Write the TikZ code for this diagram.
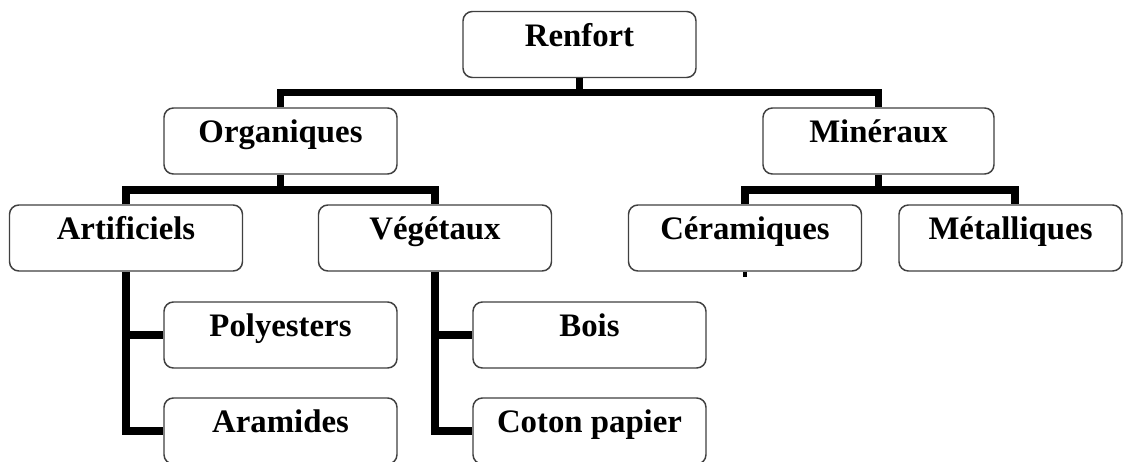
\documentclass[tikz,border=0pt]{standalone}
\usepackage{fontspec}
\setmainfont{Liberation Serif}
\begin{document}
\begin{tikzpicture}[x=0.75pt,y=-0.75pt,
  box/.style={draw=black!75, line width=1.1pt, rounded corners=7pt, fill=white,
    minimum width=174.75pt, minimum height=49.5pt, inner sep=0pt,
    text height=26.2pt, text depth=23.3pt,
    font=\fontsize{24.6}{28}\selectfont\bfseries},
  conn/.style={line width=5.6pt, line join=miter, black}]
\useasboundingbox (0,0) rectangle (1124,461);
\fill[white] (0,0) rectangle (1124,461);
% nodes
\node[box] (R)  at (579.5,44.5) {Renfort};
\node[box] (O)  at (280.5,141)  {Organiques};
\node[box, minimum width=173.25pt] (M)  at (878.5,141)  {Minéraux};
\node[box] (A)  at (126,238)    {Artificiels};
\node[box] (V)  at (435,238)    {Végétaux};
\node[box] (C)  at (745,238)    {Céramiques};
\node[box, minimum width=167.25pt] (Mt) at (1010.5,238) {Métalliques};
\node[box] (P)  at (280.5,335)  {Polyesters};
\node[box] (Ar) at (280.5,431)  {Aramides};
\node[box] (B)  at (589.5,335)  {Bois};
\node[box] (Ct) at (589.5,431)  {Coton papier};
% connector points
\coordinate (top) at (579.5,92.5);
\coordinate (ml) at (0,190);
\coordinate (mtx) at (1015,0);
% connectors
\draw[conn] (R.south) -- (top);
\draw[conn] (O.north) -- (O.north |- top) -- (M.north |- top) -- (M.north);
\draw[conn] (O.south) -- (O.south |- ml);
\draw[conn] (A.north) -- (A.north |- ml) -- (V.north |- ml) -- (V.north);
\draw[conn] (M.south) -- (M.south |- ml);
\draw[conn] (C.north) -- (C.north |- ml) -- (mtx |- ml) -- (mtx |- Mt.north);
\draw[conn] (A.south) |- (Ar.west);
\draw[conn] (A.south |- P.west) -- (P.west);
\draw[conn] (V.south) |- (Ct.west);
\draw[conn] (V.south |- B.west) -- (B.west);
\draw[line width=3pt] (C.south) -- ++(0,5);
\end{tikzpicture}
\end{document}
